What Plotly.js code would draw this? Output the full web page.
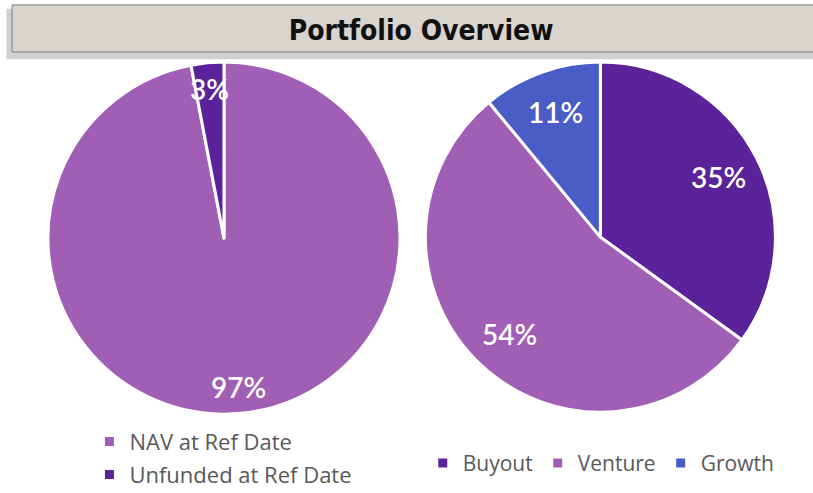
<!DOCTYPE html>
<html>
<head>
<meta charset="utf-8">
<script src="https://cdn.plot.ly/plotly-3.0.1.min.js"></script>
<style>
  html, body { margin: 0; padding: 0; background: #fff; }
  #chart { width: 813px; height: 493px; }
</style>
</head>
<body>
<div id="chart"></div>
<script>
// Left pie: NAV vs unfunded
var fundLabels = ["NAV at Ref Date", "Unfunded at Ref Date"];
var fundValues = [97, 3];
var fundColors = ["#A05EB5", "#5B239A"];

// Right pie: strategy split
var stratLabels = ["Buyout", "Venture", "Growth"];
var stratValues = [35, 54, 11];
var stratColors = ["#5B239A", "#A05EB5", "#4A5CC6"];

var W = 813, H = 493;
var leftDomain = {x: [0.059, 0.492], y: [0.16, 0.874]};
var rightDomain = {x: [0.523, 0.954], y: [0.164, 0.874]};

var legendFamily = "'Open Sans', sans-serif";
var legendColor = "#595959";

function pieTrace(labels, values, colors, domain, legendId, textSize) {
  return {
    type: "pie",
    // wrap legend text so the rows can be spaced out by a bigger legend font
    labels: labels.map(function (s) {
      return '<span style="font-size:' + textSize + 'px">' + s + '</span>';
    }),
    values: values,
    sort: false,
    direction: "clockwise",
    rotation: 0,
    marker: {colors: colors, line: {color: "#ffffff", width: 3}},
    textinfo: "none",
    hoverinfo: "percent",
    domain: domain,
    legend: legendId
  };
}

// percentage labels sitting out towards the rim, on each slice's middle angle
function pieLabels(values, domain, frac) {
  var total = values.reduce(function (a, b) { return a + b; }, 0);
  var cx = (domain.x[0] + domain.x[1]) / 2 * W;
  var cy = (domain.y[0] + domain.y[1]) / 2 * H;
  var r = Math.min((domain.x[1] - domain.x[0]) * W, (domain.y[1] - domain.y[0]) * H) / 2;
  var cum = 0, out = [];
  values.forEach(function (v) {
    var mid = (cum + v / 2) / total * 2 * Math.PI;
    cum += v;
    out.push({
      xref: "paper", yref: "paper",
      x: (cx + Math.sin(mid) * r * frac) / W,
      y: (cy + Math.cos(mid) * r * frac) / H,
      text: Math.round(v / total * 100) + "%",
      showarrow: false,
      xanchor: "center", yanchor: "middle",
      font: {family: "Lato, 'Open Sans', sans-serif", size: 28, weight: 600, color: "#ffffff"}
    });
  });
  return out;
}

var layout = {
  width: W,
  height: H,
  margin: {l: 0, r: 0, t: 0, b: 0, autoexpand: false},
  paper_bgcolor: "#ffffff",
  title: {
    text: "<b>Portfolio Overview</b>",
    font: {family: "'DejaVu Sans Condensed', sans-serif", size: 28, color: "#111111"},
    x: 0.518, xanchor: "center",
    y: 0.938, yanchor: "middle"
  },
  shapes: [
    // soft shadow behind the title bar
    {type: "rect", xref: "paper", yref: "paper", x0: 0.008, x1: 1.02, y0: 0.88, y1: 0.982,
     fillcolor: "rgba(120,120,120,0.35)", line: {width: 0}, layer: "below"},
    {type: "rect", xref: "paper", yref: "paper", x0: 0.0148, x1: 1.02, y0: 0.8945, y1: 0.99,
     fillcolor: "#D9D4CE", line: {color: "#7a7a7a", width: 1}, layer: "below"}
  ],
  annotations: pieLabels(fundValues, leftDomain, 0.85).concat(pieLabels(stratValues, rightDomain, 0.76)),
  legend: {
    orientation: "v",
    x: 0.11, xanchor: "left",
    y: 0.148, yanchor: "top",
    font: {family: legendFamily, size: 23, color: legendColor},
    bgcolor: "rgba(0,0,0,0)"
  },
  legend2: {
    orientation: "h",
    x: 0.52, xanchor: "left",
    y: 0.06, yanchor: "middle",
    font: {family: legendFamily, size: 21, color: legendColor},
    bgcolor: "rgba(0,0,0,0)"
  },
  showlegend: true
};

Plotly.newPlot("chart", [
  pieTrace(fundLabels, fundValues, fundColors, leftDomain, "legend", 22),
  pieTrace(stratLabels, stratValues, stratColors, rightDomain, "legend2", 21)
], layout, {displayModeBar: false, staticPlot: true});
</script>
</body>
</html>
